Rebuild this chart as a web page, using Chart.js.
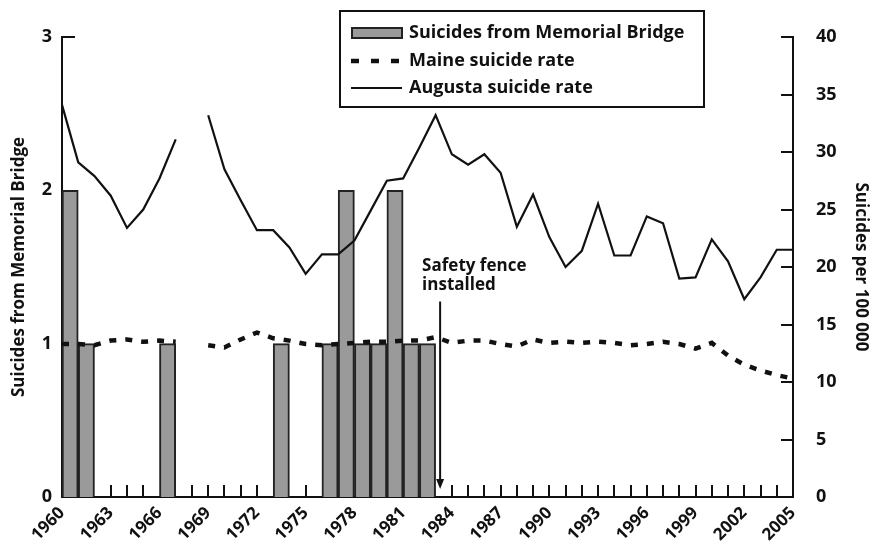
<!DOCTYPE html>
<html>
<head>
<meta charset="utf-8">
<script src="https://cdn.jsdelivr.net/npm/chart.js@4/dist/chart.umd.min.js"></script>
<style>
  html, body { margin: 0; padding: 0; background: #fff; }
  #wrap { width: 871px; height: 544px; }
</style>
</head>
<body>
<div id="wrap"><canvas id="chartView" width="871" height="544"></canvas></div>
<script>
// years on the x axis (labels every 3rd year, tick every year)
var years = [1960, 1961, 1962, 1963, 1964, 1965, 1966, 1967, 1968, 1969,
             1970, 1971, 1972, 1973, 1974, 1975, 1976, 1977, 1978, 1979,
             1980, 1981, 1982, 1983, 1984, 1985, 1986, 1987, 1988, 1989,
             1990, 1991, 1992, 1993, 1994, 1995, 1996, 1997, 1998, 1999,
             2000, 2001, 2002, 2003, 2004, 2005];
var yearLabels = [1960, 1963, 1966, 1969, 1972, 1975, 1978, 1981, 1984, 1987,
                  1990, 1993, 1996, 1999, 2002, 2005];

// suicides from Memorial Bridge per year (left axis)
var bridgeSuicides = [2, 1, 0, 0, 0, 0, 1, 0, 0, 0,
                      0, 0, 0, 1, 0, 0, 1, 2, 1, 1,
                      2, 1, 1, 0, 0, 0, 0, 0, 0, 0,
                      0, 0, 0, 0, 0, 0, 0, 0, 0, 0,
                      0, 0, 0, 0, 0, 0];

// rates per 100 000 (right axis), null = no data
var maineRate = [13.3, 13.3, 13.2, 13.6, 13.7, 13.5, 13.6, 13.5, null, 13.2,
                 13.0, 13.7, 14.3, 13.8, 13.6, 13.3, 13.2, 13.3, 13.4, 13.5,
                 13.5, 13.6, 13.6, 13.9, 13.4, 13.6, 13.6, 13.3, 13.1, 13.7,
                 13.4, 13.5, 13.4, 13.5, 13.4, 13.2, 13.3, 13.5, 13.3, 12.9,
                 13.4, 12.3, 11.5, 11.0, 10.6, 10.3];
var augustaRate = [34.1, 29.1, 27.9, 26.2, 23.4, 25.0, 27.7, 31.1, null, 33.2,
                   28.5, 25.8, 23.2, 23.2, 21.7, 19.4, 21.1, 21.1, 22.3, 24.9,
                   27.5, 27.7, 30.4, 33.2, 29.8, 28.9, 29.8, 28.2, 23.5, 26.3,
                   22.6, 20.0, 21.4, 25.5, 21.0, 21.0, 24.4, 23.8, 19.0, 19.1,
                   22.4, 20.5, 17.2, 19.1, 21.5, 21.5];

// tick values of the two y axes
var leftTicks = [0, 1, 2, 3];
var rightTicks = [0, 5, 10, 15, 20, 25, 30, 35, 40];

var fenceYear = 1983;
var seriesNames = ['Suicides from Memorial Bridge', 'Maine suicide rate', 'Augusta suicide rate'];

var FONT = '"Open Sans"';
var INK = '#111';

// bars fill the whole year, lines sit on the year itself
var barPoints = [];
years.forEach(function (yr, i) {
    if (bridgeSuicides[i] > 0) barPoints.push({ x: yr + 0.5, y: bridgeSuicides[i] });
});
function linePoints(arr) {
    return years.map(function (yr, i) { return { x: yr, y: arr[i] }; });
}

// is a point hidden behind one of the bars?
function underBar(chart, px, py) {
    var bars = chart.getDatasetMeta(2).data || [];
    for (var i = 0; i < bars.length; i++) {
        var p = bars[i].getProps(['x', 'y', 'base', 'width'], true);
        var half = p.width / 2 + 1;
        if (px >= p.x - half && px <= p.x + half && py >= p.y - 1 && py <= p.base + 1) return true;
    }
    return false;
}

// short tick marks pointing into the plot
function drawInnerTicks(chart) {
    var ctx = chart.ctx, a = chart.chartArea;
    var sx = chart.scales.x, sy = chart.scales.y, sy1 = chart.scales.y1;
    var bottom = Math.round(a.bottom), left = Math.round(a.left), right = Math.round(a.right);
    ctx.save();
    ctx.setLineDash([]);
    ctx.globalAlpha = 1;
    ctx.fillStyle = INK;
    years.forEach(function (yr) {
        var px = Math.round(sx.getPixelForValue(yr));
        if (underBar(chart, px, bottom - 6)) return;
        ctx.fillRect(px - 1, bottom - 12, 2, 12);
    });
    leftTicks.forEach(function (v) {
        var py = Math.round(sy.getPixelForValue(v));
        if (underBar(chart, left + 6, py)) return;
        ctx.fillRect(left, py - 1, 13, 2);
    });
    rightTicks.forEach(function (v) {
        var py = Math.round(sy1.getPixelForValue(v));
        ctx.fillRect(right - 12, py - 1, 12, 2);
    });
    ctx.restore();
}

// inner ticks, framed legend, safety fence note
var extras = {
    id: 'extras',
    afterDraw: function (chart) {
        var ctx = chart.ctx, a = chart.chartArea, s = chart.scales;
        var ds = chart.data.datasets;

        drawInnerTicks(chart);

        ctx.save();
        // legend frame
        ctx.strokeStyle = INK;
        ctx.lineWidth = 2;
        ctx.strokeRect(340, 11, 364, 96);

        ctx.textBaseline = 'middle';
        var rows = [33, 61, 88];

        // bar symbol
        ctx.fillStyle = ds[2].backgroundColor;
        ctx.fillRect(352, rows[0] - 5, 50, 10);
        ctx.strokeStyle = ds[2].borderColor;
        ctx.lineWidth = 2;
        ctx.strokeRect(352, rows[0] - 5, 50, 10);

        // dashed
        ctx.strokeStyle = INK;
        ctx.lineWidth = ds[1].borderWidth;
        ctx.setLineDash([8, 12]);
        ctx.beginPath();
        ctx.moveTo(351, rows[1]);
        ctx.lineTo(404, rows[1]);
        ctx.stroke();
        ctx.setLineDash([]);

        // solid
        ctx.lineWidth = ds[0].borderWidth;
        ctx.beginPath();
        ctx.moveTo(351, rows[2]);
        ctx.lineTo(402, rows[2]);
        ctx.stroke();

        ctx.font = '700 18px ' + FONT;
        ctx.fillStyle = INK;
        seriesNames.forEach(function (name, i) {
            ctx.fillText(name, 409, rows[i]);
        });

        // safety fence arrow
        var fx = s.x.getPixelForValue(fenceYear) + 4.5;
        var top = s.y1.getPixelForValue(17);
        var tip = a.bottom - 8;
        ctx.lineWidth = 2;
        ctx.beginPath();
        ctx.moveTo(fx, top);
        ctx.lineTo(fx, tip - 6);
        ctx.stroke();
        ctx.beginPath();
        ctx.moveTo(fx - 4, tip - 10);
        ctx.lineTo(fx + 4, tip - 10);
        ctx.lineTo(fx, tip);
        ctx.closePath();
        ctx.fill();

        ctx.font = '700 17px ' + FONT;
        ctx.textBaseline = 'alphabetic';
        ctx.fillText('Safety fence', fx - 18, top - 31);
        ctx.fillText('installed', fx - 18, top - 12);

        ctx.restore();
    }
};

function drawChart() {
    var ctx = document.getElementById('chartView').getContext('2d');
    new Chart(ctx, {
        type: 'bar',
        data: {
            datasets: [
                {
                    type: 'line',
                    label: seriesNames[2],
                    data: linePoints(augustaRate),
                    yAxisID: 'y1',
                    borderColor: INK,
                    borderWidth: 2.2,
                    pointRadius: 0,
                    tension: 0,
                    spanGaps: false,
                    order: 1
                },
                {
                    type: 'line',
                    label: seriesNames[1],
                    data: linePoints(maineRate),
                    yAxisID: 'y1',
                    borderColor: INK,
                    borderWidth: 4.5,
                    borderDash: [7, 9],
                    borderCapStyle: 'butt',
                    pointRadius: 0,
                    tension: 0,
                    spanGaps: false,
                    order: 2
                },
                {
                    type: 'bar',
                    label: seriesNames[0],
                    data: barPoints,
                    yAxisID: 'y',
                    backgroundColor: '#9a9a9a',
                    borderColor: '#222',
                    borderWidth: 2,
                    categoryPercentage: 1,
                    barPercentage: 1,
                    order: 3
                }
            ]
        },
        options: {
            responsive: false,
            animation: false,
            layout: { padding: { top: 37, left: 0, right: 0, bottom: 0 } },
            plugins: {
                legend: { display: false },
                tooltip: { enabled: false }
            },
            scales: {
                x: {
                    type: 'linear',
                    min: 1960,
                    max: 2005,
                    offset: false,
                    grid: { display: false, drawTicks: false },
                    border: { display: true, color: INK, width: 2 },
                    afterBuildTicks: function (scale) {
                        scale.ticks = years.map(function (v) { return { value: v }; });
                    },
                    afterFit: function (scale) { scale.height = 47; },
                    ticks: {
                        autoSkip: false,
                        minRotation: 45,
                        maxRotation: 45,
                        padding: 6,
                        color: INK,
                        font: { family: FONT, size: 17, weight: '700' },
                        callback: function (v) {
                            return yearLabels.indexOf(v) >= 0 ? String(v) : '';
                        }
                    }
                },
                y: {
                    position: 'left',
                    min: 0,
                    max: 3,
                    grid: { display: false, drawTicks: false },
                    border: { display: true, color: INK, width: 2 },
                    afterFit: function (scale) { scale.width = 62; },
                    afterBuildTicks: function (scale) {
                        scale.ticks = leftTicks.map(function (v) { return { value: v }; });
                    },
                    ticks: {
                        padding: 10,
                        color: INK,
                        font: { family: FONT, size: 18, weight: '700' }
                    },
                    title: {
                        display: true,
                        text: 'Suicides from Memorial Bridge',
                        color: INK,
                        padding: { top: 9, bottom: 0 },
                        font: { family: FONT, size: 17, weight: '700' }
                    }
                },
                y1: {
                    position: 'right',
                    min: 0,
                    max: 40,
                    grid: { display: false, drawTicks: false },
                    border: { display: true, color: INK, width: 2 },
                    afterFit: function (scale) { scale.width = 78; },
                    afterBuildTicks: function (scale) {
                        scale.ticks = rightTicks.map(function (v) { return { value: v }; });
                    },
                    ticks: {
                        padding: 23,
                        color: INK,
                        font: { family: FONT, size: 18, weight: '700' }
                    },
                    title: {
                        display: true,
                        text: 'Suicides per 100 000',
                        color: INK,
                        padding: { top: 0, bottom: 0 },
                        font: { family: FONT, size: 17, weight: '700' }
                    }
                }
            }
        },
        plugins: [extras]
    });
}

drawChart();
</script>
</body>
</html>
